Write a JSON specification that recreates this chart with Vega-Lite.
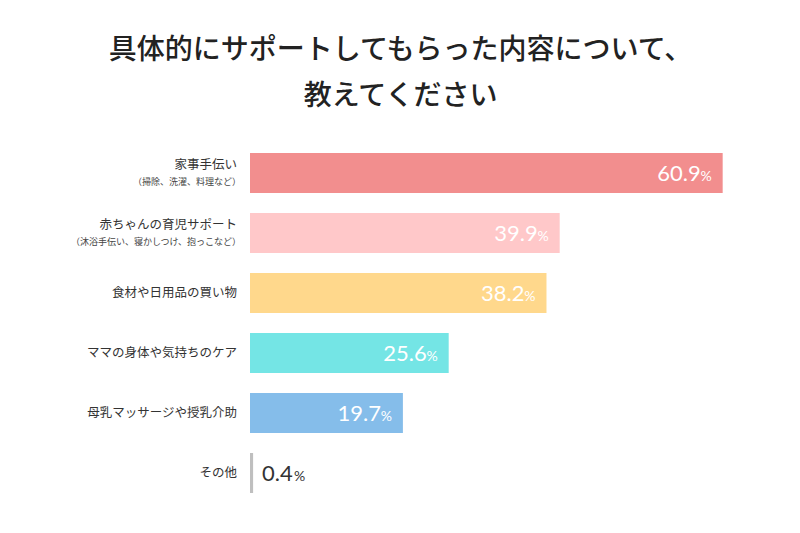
{
  "$schema": "https://vega.github.io/schema/vega-lite/v6.json",
  "width": 475,
  "height": 360,
  "autosize": {"type": "none"},
  "padding": {"left": 250, "top": 143, "right": 75, "bottom": 30},
  "background": "#ffffff",
  "config": {"view": {"stroke": null}},
  "title": {
    "text": ["具体的にサポートしてもらった内容について、", "教えてください"],
    "font": "Noto Sans CJK JP",
    "fontSize": 28,
    "fontWeight": 500,
    "color": "#222222",
    "lineHeight": 46,
    "anchor": "middle",
    "frame": "group",
    "dx": -87,
    "offset": 32
  },
  "data": {
    "values": [
      {"cat": "c1", "label": "家事手伝い", "sub": "（掃除、洗濯、料理など）", "value": 60.9},
      {"cat": "c2", "label": "赤ちゃんの育児サポート", "sub": "（沐浴手伝い、寝かしつけ、抱っこなど）", "value": 39.9},
      {"cat": "c3", "label": "食材や日用品の買い物", "sub": "", "value": 38.2},
      {"cat": "c4", "label": "ママの身体や気持ちのケア", "sub": "", "value": 25.6},
      {"cat": "c5", "label": "母乳マッサージや授乳介助", "sub": "", "value": 19.7},
      {"cat": "c6", "label": "その他", "sub": "", "value": 0.4}
    ]
  },
  "encoding": {
    "y": {
      "field": "cat",
      "type": "nominal",
      "sort": null,
      "axis": null,
      "scale": {"paddingInner": 0.3333, "paddingOuter": 0.1667}
    }
  },
  "layer": [
    {
      "mark": {"type": "bar", "cornerRadius": 0},
      "encoding": {
        "x": {"field": "value", "type": "quantitative", "axis": null, "scale": {"domain": [0, 61.2], "nice": false, "zero": true}},
        "color": {
          "field": "cat",
          "type": "nominal",
          "legend": null,
          "scale": {
            "domain": ["c1", "c2", "c3", "c4", "c5", "c6"],
            "range": ["#F28E8E", "#FFC8C9", "#FFD88C", "#74E5E5", "#85BDEA", "#BFBFBF"]
          }
        }
      }
    },
    {
      "transform": [{"filter": "datum.sub != ''"}],
      "mark": {"type": "text", "align": "right", "baseline": "middle", "dx": -13, "dy": -8, "font": "Noto Sans CJK JP", "fontSize": 12.5, "letterSpacing": 1.4, "color": "#333333"},
      "encoding": {"x": {"datum": 0, "type": "quantitative"}, "text": {"field": "label"}}
    },
    {
      "transform": [{"filter": "datum.sub != ''"}],
      "mark": {"type": "text", "align": "right", "baseline": "middle", "dx": -9, "dy": 9, "font": "Noto Sans CJK JP", "fontSize": 9, "letterSpacing": 1.2, "color": "#444444"},
      "encoding": {"x": {"datum": 0, "type": "quantitative"}, "text": {"field": "sub"}}
    },
    {
      "transform": [{"filter": "datum.sub == ''"}],
      "mark": {"type": "text", "align": "right", "baseline": "middle", "dx": -13, "dy": 0, "font": "Noto Sans CJK JP", "fontSize": 12.5, "letterSpacing": 1.4, "color": "#333333"},
      "encoding": {"x": {"datum": 0, "type": "quantitative"}, "text": {"field": "label"}}
    },
    {
      "transform": [{"filter": "datum.value >= 5"}],
      "mark": {"type": "text", "align": "right", "baseline": "alphabetic", "dx": -22, "dy": 8, "font": "Lato", "fontSize": 22, "letterSpacing": 1, "color": "#ffffff"},
      "encoding": {"x": {"field": "value", "type": "quantitative"}, "text": {"field": "value", "type": "quantitative", "format": ".1f"}}
    },
    {
      "transform": [{"filter": "datum.value >= 5"}],
      "mark": {"type": "text", "align": "right", "baseline": "alphabetic", "dx": -11, "dy": 8, "font": "Lato", "fontSize": 14, "color": "#ffffff", "text": "%"},
      "encoding": {"x": {"field": "value", "type": "quantitative"}}
    },
    {
      "transform": [{"filter": "datum.value < 5"}],
      "mark": {"type": "text", "align": "left", "baseline": "alphabetic", "dx": 9, "dy": 8, "font": "Lato", "fontSize": 22, "letterSpacing": 2, "color": "#333333"},
      "encoding": {"x": {"field": "value", "type": "quantitative"}, "text": {"field": "value", "type": "quantitative", "format": ".1f"}}
    },
    {
      "transform": [{"filter": "datum.value < 5"}],
      "mark": {"type": "text", "align": "left", "baseline": "alphabetic", "dx": 41, "dy": 8, "font": "Lato", "fontSize": 14, "color": "#333333", "text": "%"},
      "encoding": {"x": {"field": "value", "type": "quantitative"}}
    }
  ]
}
